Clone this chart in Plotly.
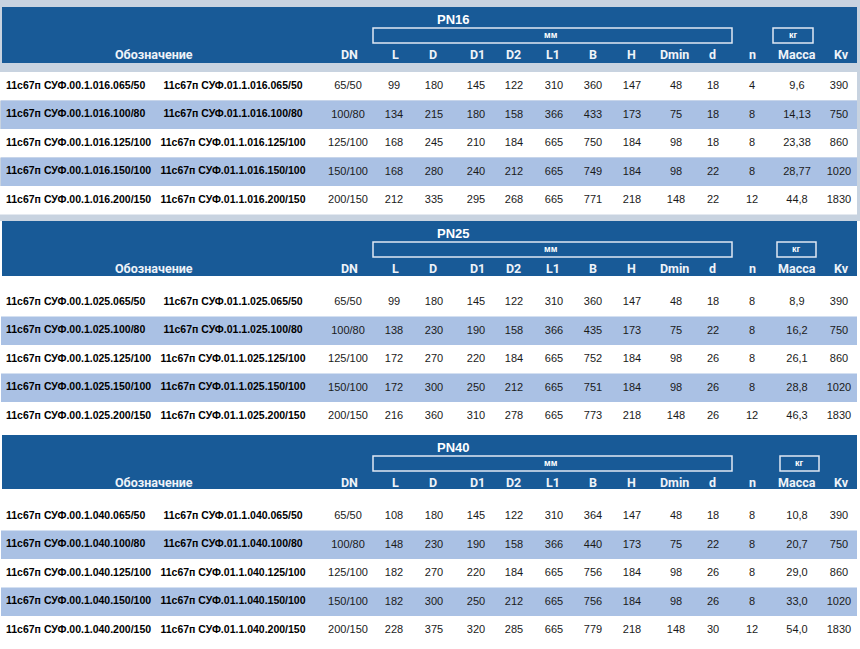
import plotly.graph_objects as go

# данные таблицы
sizes = ["065/50", "100/80", "125/100", "150/100", "200/150"]
dn = ["65/50", "100/80", "125/100", "150/100", "200/150"]
kv = [390, 750, 860, 1020, 1830]
l1 = [310, 366, 665, 665, 665]
h = [147, 173, 184, 184, 218]
dmin = [48, 75, 98, 98, 148]

pn16_l = [99, 134, 168, 168, 212]
pn16_d = [180, 215, 245, 280, 335]
pn16_d1 = [145, 180, 210, 240, 295]
pn16_d2 = [122, 158, 184, 212, 268]
pn16_b = [360, 433, 750, 749, 771]
pn16_dd = [18, 18, 18, 22, 22]
pn16_n = [4, 8, 8, 8, 12]
pn16_mass = ["9,6", "14,13", "23,38", "28,77", "44,8"]

pn25_l = [99, 138, 172, 172, 216]
pn25_d = [180, 230, 270, 300, 360]
pn25_d1 = [145, 190, 220, 250, 310]
pn25_d2 = [122, 158, 184, 212, 278]
pn25_b = [360, 435, 752, 751, 773]
pn25_dd = [18, 22, 26, 26, 26]
pn25_n = [8, 8, 8, 8, 12]
pn25_mass = ["8,9", "16,2", "26,1", "28,8", "46,3"]

pn40_l = [108, 148, 182, 182, 228]
pn40_d = [180, 230, 270, 300, 375]
pn40_d1 = [145, 190, 220, 250, 320]
pn40_d2 = [122, 158, 184, 212, 285]
pn40_b = [364, 440, 756, 756, 779]
pn40_dd = [18, 22, 26, 26, 30]
pn40_n = [8, 8, 8, 8, 12]
pn40_mass = ["10,8", "20,7", "29,0", "33,0", "54,0"]

col_names = ["DN", "L", "D", "D1", "D2", "L1", "B", "H", "Dmin", "d", "n", "Масса", "Kv"]

sections = [
    dict(title="PN16", code="016", top=7, bottom=63, rows=72, kg=(773, 813),
         cols=[dn, pn16_l, pn16_d, pn16_d1, pn16_d2, l1, pn16_b, h, dmin, pn16_dd, pn16_n, pn16_mass, kv]),
    dict(title="PN25", code="025", top=221, bottom=276, rows=288, kg=(777, 816),
         cols=[dn, pn25_l, pn25_d, pn25_d1, pn25_d2, l1, pn25_b, h, dmin, pn25_dd, pn25_n, pn25_mass, kv]),
    dict(title="PN40", code="040", top=435, bottom=489, rows=502, kg=(780, 819),
         cols=[dn, pn40_l, pn40_d, pn40_d1, pn40_d2, l1, pn40_b, h, dmin, pn40_dd, pn40_n, pn40_mass, kv]),
]

col_x = [348, 394, 434, 476, 514, 554, 593, 632, 676, 713, 752, 797, 839]
head_x = [349, 395, 433, 477, 513, 553, 593, 631, 674, 712, 752, 797, 841]
pitch = 28.5

HEAD = "#185a97"
ROWB = "#aac1e4"
PHOTO = "#c8d3e0"

fig = go.Figure()
shapes = []
ann = []

# фон сверху (фото)
shapes.append(dict(type="rect", x0=0, x1=860, y0=0, y1=221, fillcolor=PHOTO, line_width=0, layer="below"))

for s in sections:
    t = s["top"]
    shapes.append(dict(type="rect", x0=2, x1=857, y0=t, y1=s["bottom"], fillcolor=HEAD, line_width=0, layer="below"))
    # строки
    for i in range(5):
        y0 = s["rows"] + i * pitch
        color = ROWB if i % 2 == 1 else "white"
        shapes.append(dict(type="rect", x0=1 if i % 2 else 0, x1=857, y0=y0, y1=y0 + pitch,
                           fillcolor=color, line_width=0, layer="below"))
    # рамки мм / кг
    shapes.append(dict(type="rect", x0=373, x1=732, y0=t + 21, y1=t + 36,
                       line=dict(color="#dfe8f3", width=1.5)))
    shapes.append(dict(type="rect", x0=s["kg"][0], x1=s["kg"][1], y0=t + 21, y1=t + 36,
                       line=dict(color="#dfe8f3", width=1.5)))
    ann.append(dict(x=453, y=t + 12, text="<b>" + s["title"] + "</b>", showarrow=False,
                    font=dict(family="Liberation Sans", size=13, color="white")))
    ann.append(dict(x=551, y=t + 28, text="<b>мм</b>", showarrow=False,
                    font=dict(family="Liberation Sans", size=9, color="white")))
    ann.append(dict(x=(s["kg"][0] + s["kg"][1]) / 2, y=t + 28, text="<b>кг</b>", showarrow=False,
                    font=dict(family="Liberation Sans", size=9, color="white")))
    ann.append(dict(x=154, y=t + 47, text="<b>Обозначение</b>", showarrow=False,
                    font=dict(family="Roboto", size=12.5, color="#eef3f9")))
    for name, x in zip(col_names, head_x):
        ann.append(dict(x=x, y=t + 47, text="<b>" + name + "</b>", showarrow=False,
                        font=dict(family="Roboto", size=12.5, color="#eef3f9")))

    ys = [s["rows"] + pitch / 2 + i * pitch for i in range(5)]
    des1 = ["11с67п СУФ.00.1." + s["code"] + "." + z for z in sizes]
    des2 = ["11с67п СУФ.01.1." + s["code"] + "." + z for z in sizes]
    fig.add_trace(go.Scatter(x=[6] * 5, y=ys, text=des1, mode="text", textposition="middle right",
                             textfont=dict(family="Liberation Sans", size=10.5, color="black"),
                             texttemplate="<b>%{text}</b>", hoverinfo="skip", showlegend=False))
    fig.add_trace(go.Scatter(x=[233] * 5, y=ys, text=des2, mode="text", textposition="middle center",
                             textfont=dict(family="Liberation Sans", size=10.5, color="black"),
                             texttemplate="<b>%{text}</b>", hoverinfo="skip", showlegend=False))
    for vals, x in zip(s["cols"], col_x):
        fig.add_trace(go.Scatter(x=[x] * 5, y=ys, text=[str(v) for v in vals], mode="text",
                                 textposition="middle center",
                                 textfont=dict(family="Liberation Sans", size=11, color="#1a1a1a"),
                                 hoverinfo="skip", showlegend=False))

fig.update_layout(
    width=860, height=649,
    margin=dict(l=0, r=0, t=0, b=0),
    paper_bgcolor="white", plot_bgcolor="white",
    shapes=shapes, annotations=ann,
    xaxis=dict(range=[0, 860], visible=False, fixedrange=True),
    yaxis=dict(range=[649, 0], visible=False, fixedrange=True),
)

fig.write_html("out.html", config={"displayModeBar": False},
               post_script="document.body.style.margin='0';")
